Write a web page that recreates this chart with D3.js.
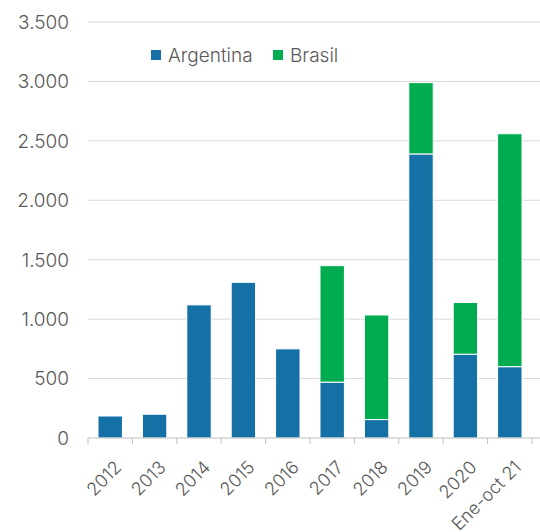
<!DOCTYPE html>
<html>
<head>
<meta charset="utf-8">
<script src="https://cdn.jsdelivr.net/npm/d3@7"></script>
<style>
  body { margin: 0; background: #fff; }
  text { font-family: Inter, "Open Sans", sans-serif; fill: #595959; font-weight: 300; }
</style>
</head>
<body>
<div id="chart"></div>
<script>
let categories = ['2012', '2013', '2014', '2015', '2016', '2017', '2018', '2019', '2020', 'Ene-oct 21'];
let argentina = [185, 200, 1120, 1310, 750, 470, 155, 2390, 705, 600];
let brasil = [0, 0, 0, 0, 0, 980, 880, 600, 435, 1960];
let seriesNames = ['Argentina', 'Brasil'];
let yTicks = [0, 500, 1000, 1500, 2000, 2500, 3000, 3500];

let colors = { Argentina: '#1570a6', Brasil: '#00ac4f' };
let width = 540, height = 532;

let svg = d3.select('#chart').append('svg')
    .attr('width', width)
    .attr('height', height);

let x = d3.scaleBand()
    .domain(categories)
    .range([88, 532])
    .paddingInner(0.45)
    .paddingOuter(0.225);

let y = d3.scaleLinear()
    .domain([0, 3500])
    .range([438, 22]);

let fmt = v => d3.format(',')(v).replace(/,/g, '.');

// gridlines
svg.append('g')
    .selectAll('line')
    .data(yTicks.filter(t => t > 0))
    .enter().append('line')
    .attr('x1', 88).attr('x2', 540)
    .attr('y1', d => y(d)).attr('y2', d => y(d))
    .attr('stroke', '#d9d9d9')
    .attr('stroke-width', 1);

// y labels
svg.append('g')
    .selectAll('text')
    .data(yTicks)
    .enter().append('text')
    .attr('x', 69)
    .attr('y', d => y(d))
    .attr('dy', '0.36em')
    .attr('text-anchor', 'end')
    .style('font-size', '19px')
    .text(fmt);

// stacked bars
let rows = categories.map((c, i) => ({ cat: c, Argentina: argentina[i], Brasil: brasil[i] }));
let stack = d3.stack().keys(seriesNames)(rows);

svg.append('g')
    .selectAll('g')
    .data(stack)
    .enter().append('g')
    .attr('fill', d => colors[d.key])
    .selectAll('rect')
    .data(d => d.filter(p => p[1] > p[0]))
    .enter().append('rect')
    .attr('x', d => x(d.data.cat))
    .attr('width', x.bandwidth())
    .attr('y', d => y(d[1]))
    .attr('height', d => y(d[0]) - y(d[1]))
    .attr('stroke', '#fff')
    .attr('stroke-width', 1);

// x axis
let xAxis = svg.append('g')
    .attr('transform', 'translate(0,438)');
xAxis.append('line')
    .attr('x1', 88).attr('x2', 540)
    .attr('stroke', '#bfbfbf');
let step = x.step();
let bounds = d3.range(categories.length + 1).map(i => 88 + i * step);
xAxis.selectAll('line.tick')
    .data(bounds)
    .enter().append('line')
    .attr('class', 'tick')
    .attr('x1', d => d).attr('x2', d => d)
    .attr('y1', 0).attr('y2', 6)
    .attr('stroke', '#bfbfbf');

xAxis.selectAll('text')
    .data(categories)
    .enter().append('text')
    .attr('transform', d => 'translate(' + (x(d) + x.bandwidth() / 2 + 8) + ',26) rotate(-45)')
    .attr('text-anchor', 'end')
    .attr('dy', '0.35em')
    .style('font-size', '18px')
    .text(d => d);

// legend
let legend = svg.append('g').attr('transform', 'translate(151,55)');
let lx = [0, 122];
seriesNames.forEach((s, i) => {
  let lg = legend.append('g').attr('transform', 'translate(' + lx[i] + ',0)');
  lg.append('rect')
    .attr('x', 0).attr('y', -5)
    .attr('width', 10).attr('height', 10)
    .attr('fill', colors[s]);
  lg.append('text')
    .attr('x', 17)
    .attr('dy', '0.36em')
    .style('font-size', '19px')
    .text(s);
});
</script>
</body>
</html>
